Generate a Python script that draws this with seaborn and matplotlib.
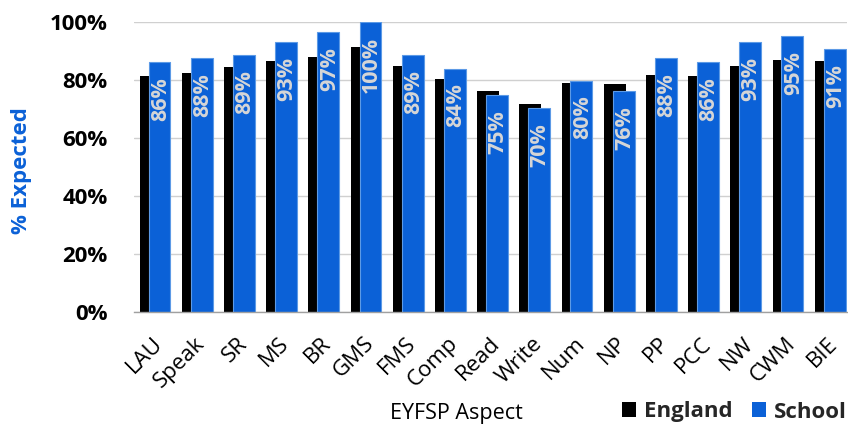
import numpy as np
import pandas as pd
import seaborn as sns
import matplotlib.pyplot as plt
import matplotlib.transforms as mtransforms
from matplotlib.patches import Patch

categories = ["LAU", "Speak", "SR", "MS", "BR", "GMS", "FMS", "Comp", "Read",
              "Write", "Num", "NP", "PP", "PCC", "NW", "CWM", "BIE"]
england = [81.5, 82.6, 84.7, 86.7, 87.9, 91.5, 85.0, 80.3, 76.4,
           71.7, 79.1, 78.6, 81.8, 81.5, 85.0, 87.1, 86.7]
school = [86.2, 87.6, 88.6, 93.1, 96.6, 100.0, 88.6, 84.0, 74.9,
          70.4, 79.8, 76.2, 87.6, 86.2, 93.1, 95.1, 90.8]
y_ticks = [0, 20, 40, 60, 80, 100]
y_tick_labels = ["0%", "20%", "40%", "60%", "80%", "100%"]
series_names = ["England", "School"]

BLUE = "#0b61d7"
BLACK = "#000000"

sns.set_theme(style="white")
plt.rcParams['font.family'] = ['Open Sans', 'DejaVu Sans']

W, H = 848, 424
fig = plt.figure(figsize=(W / 100, H / 100), dpi=100)
ax = fig.add_axes([134 / W, 1 - 311.5 / H, (847 - 134) / W, (311.5 - 22.3) / H])

pos = np.arange(len(categories))
off = 0.105
df_e = pd.DataFrame({"pos": pos - off, "val": england})
df_s = pd.DataFrame({"pos": pos + off, "val": school})

sns.barplot(data=df_e, x="pos", y="val", native_scale=True, width=0.52,
            color=BLACK, saturation=1, errorbar=None, ax=ax, linewidth=0)
sns.barplot(data=df_s, x="pos", y="val", native_scale=True, width=0.52,
            color=BLUE, saturation=1, errorbar=None, ax=ax,
            edgecolor="#5c9ae6", linewidth=0.8)

for p, v in zip(pos, school):
    ax.annotate(f"{v:.0f}%", xy=(p + off, v), xytext=(1, -15),
                textcoords="offset pixels", rotation=90, ha="center", va="top",
                color="#d6d6d6", fontsize=15.5, fontweight="bold")

ax.set_xlim(-0.5, 16.4)
ax.set_ylim(0, 100)
ax.set_yticks(y_ticks)
ax.set_yticklabels(y_tick_labels, fontsize=16, fontweight="bold", color="black")
ax.tick_params(axis="y", length=0, pad=19)

ax.set_xticks(pos)
ax.set_xticklabels(categories, rotation=45, ha="right", rotation_mode="anchor",
                   fontsize=16, color="black")
ax.tick_params(axis="x", length=0, pad=15.5)
shift = mtransforms.ScaledTranslation(-3 / 100, 0, fig.dpi_scale_trans)
for lbl in ax.get_xticklabels():
    lbl.set_transform(lbl.get_transform() + shift)

ax.set_xlabel("")
ax.set_ylabel("% Expected", color=BLUE, fontsize=16, fontweight="bold")
ax.yaxis.set_label_coords(-0.143, 0.486)

ax.yaxis.grid(True, color="#d0d0d0", linewidth=1)
ax.xaxis.grid(False)
ax.set_axisbelow(True)
for s in ["top", "right", "left"]:
    ax.spines[s].set_visible(False)
ax.spines["bottom"].set_color("#a0a0a0")
ax.spines["bottom"].set_linewidth(1)

fig.text(456.5 / W, 1 - 419 / H, "EYFSP Aspect", ha="center", va="baseline",
         fontsize=15.5, color="black")

handles = [Patch(facecolor=BLACK, edgecolor="none"), Patch(facecolor=BLUE, edgecolor="none")]
fig.legend(handles, series_names, loc="center right", bbox_to_anchor=(847 / W, 1 - 412 / H),
           ncol=2, frameon=False, prop={"weight": "bold", "size": 16},
           handlelength=0.64, handleheight=0.64, handletextpad=0.36,
           columnspacing=0.86, borderpad=0, borderaxespad=0)

fig.savefig("out.png", dpi=100)
